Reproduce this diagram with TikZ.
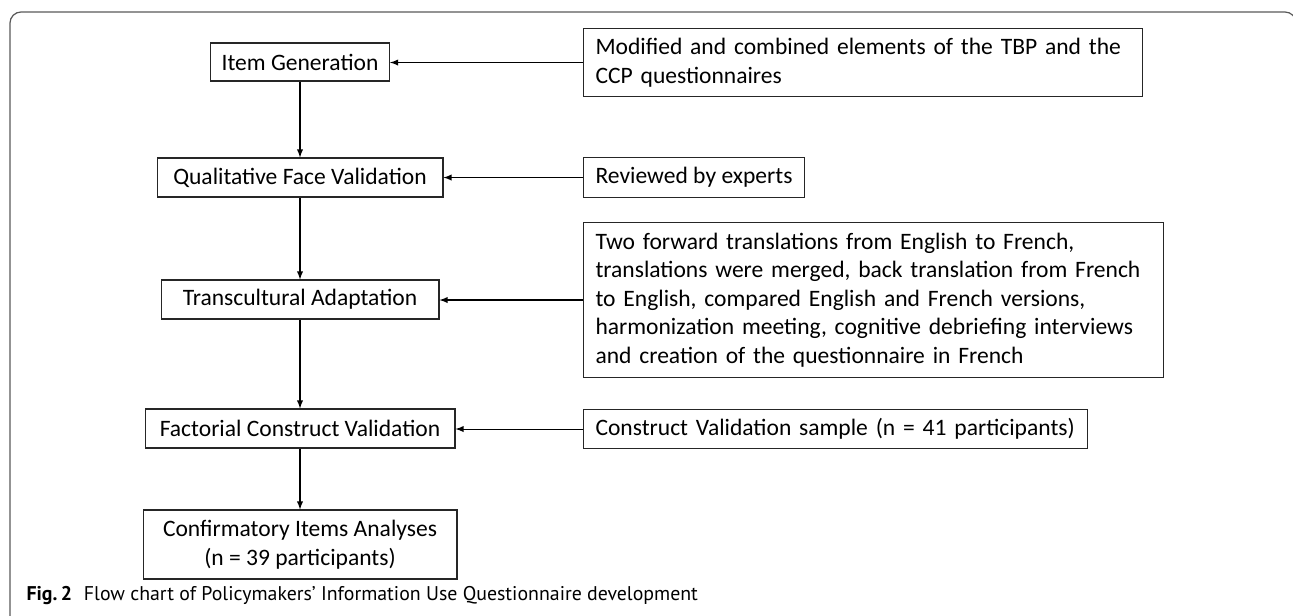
\documentclass[tikz,border=0pt]{standalone}
\usepackage{fontspec}
\setmainfont{Carlito}
\newfontfamily\capfont{PT Sans}
\usepackage{tikz}
\usetikzlibrary{arrows,positioning}
\usepackage{xcolor}

\begin{document}
\begin{tikzpicture}[x=0.02cm,y=-0.02cm,>=latex,
    line width=0.6pt,
    box/.style={rectangle,draw=black!85,inner sep=0pt,align=center,
        font=\fontsize{13.4}{16.3}\selectfont},
    side/.style={rectangle,draw=black!85,inner xsep=0.24cm,inner ysep=0pt,anchor=north west,align=left,
        font=\fontsize{13.4}{16.3}\selectfont}]
    \useasboundingbox (0,0) rectangle (1293,615);
    % outer frame
    \draw[black!65,line width=0.7pt,rounded corners=0.22cm] (10,640)--(10,12)--(1296,12)--(1296,640);
    % main steps
    \node(ig)[box,minimum width=3.58cm,minimum height=0.76cm] at (300,62)    {Item Generation};
    \node(qf)[box,minimum width=5.72cm,minimum height=0.78cm] at (300,177.5) {Qualitative Face Validation};
    \node(ta)[box,minimum width=5.56cm,minimum height=0.78cm] at (300,299.5) {Transcultural Adaptation};
    \node(fc)[box,minimum width=6.2cm,minimum height=0.78cm]  at (300,428.5) {Factorial Construct Validation};
    \node(ca)[box,minimum width=6.28cm,minimum height=1.38cm] at (300,544.5) {Confirmatory Items Analyses\\(n = 39 participants)};
    % inputs
    \node(tbp)[side,text width=10.70cm,minimum height=1.36cm] at (583,28)  {Modified and combined elements of the TBP and the\\CCP questionnaires};
    \node(exp)[side,minimum width=4.42cm,minimum height=0.80cm]  at (583,157) {Reviewed by experts};
    \node(trn)[side,text width=11.12cm,minimum height=3.10cm] at (583,222) {Two forward translations from English to French,\\translations were merged, back translation from French\\to English, compared English and French versions,\\harmonization meeting, cognitive debriefing interviews\\and creation of the questionnaire in French};
    \node(cvs)[side,text width=9.60cm,minimum height=0.78cm]  at (583,409) {Construct Validation sample (n = 41 participants)};
    \draw [->] (ig)--(qf);
    \draw [->] (qf)--(ta);
    \draw [->] (ta)--(fc);
    \draw [->] (fc)--(ca);
    \draw [->] (tbp.west)--(tbp.west -| ig.east);
    \draw [->] (exp.west)--(exp.west -| qf.east);
    \draw [->] (trn.west)--(trn.west -| ta.east);
    \draw [->] (cvs.west)--(cvs.west -| fc.east);
    \node(cap)[anchor=west,inner sep=0pt,font=\capfont\fontsize{11.3}{13.5}\selectfont] at (26,596)
        {{\bfseries Fig.\,2}\hspace{0.6em}Flow chart of Policymakers’ Information Use Questionnaire development};
\end{tikzpicture}
\end{document}
